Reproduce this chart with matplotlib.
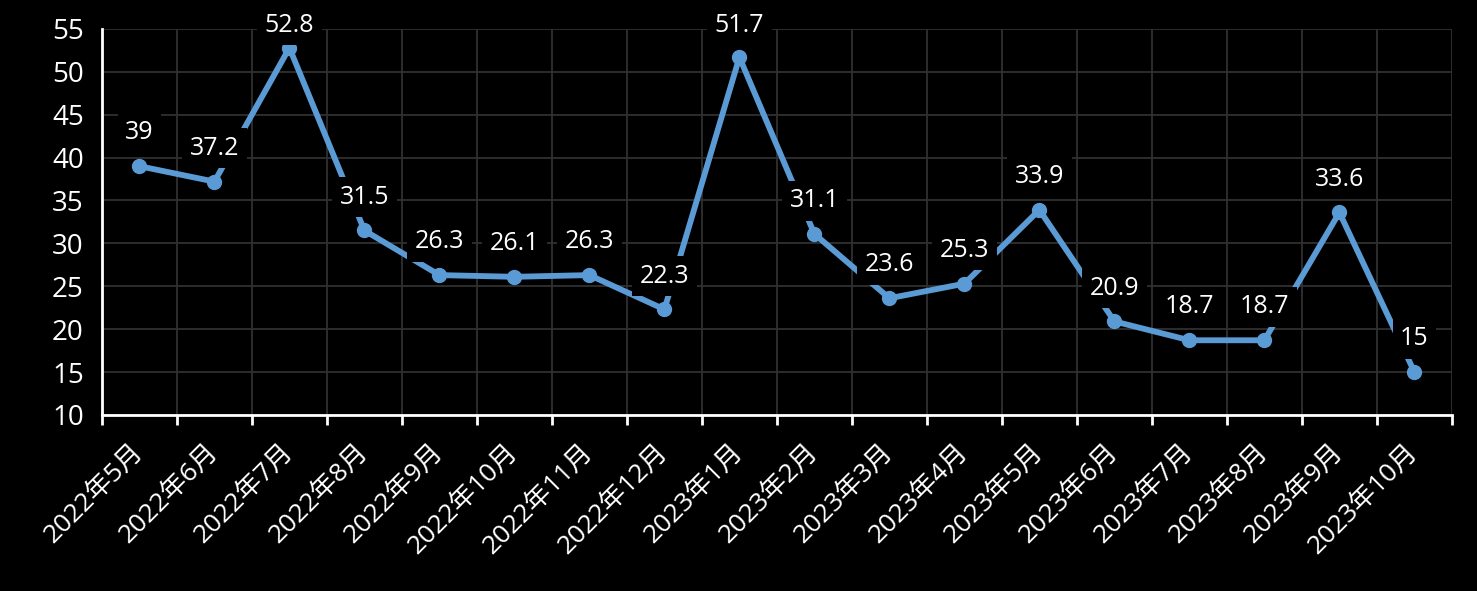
import matplotlib
matplotlib.use("Agg")
import matplotlib.pyplot as plt
import numpy as np

plt.rcParams['font.family'] = ['Open Sans', 'Noto Sans CJK SC', 'DejaVu Sans']

months = ["2022年5月", "2022年6月", "2022年7月", "2022年8月", "2022年9月", "2022年10月",
          "2022年11月", "2022年12月", "2023年1月", "2023年2月", "2023年3月", "2023年4月",
          "2023年5月", "2023年6月", "2023年7月", "2023年8月", "2023年9月", "2023年10月"]
values = [39, 37.2, 52.8, 31.5, 26.3, 26.1, 26.3, 22.3, 51.7, 31.1,
          23.6, 25.3, 33.9, 20.9, 18.7, 18.7, 33.6, 15]
value_labels = ["39", "37.2", "52.8", "31.5", "26.3", "26.1", "26.3", "22.3", "51.7", "31.1",
                "23.6", "25.3", "33.9", "20.9", "18.7", "18.7", "33.6", "15"]

blue = "#5B9BD5"
W, H = 1477, 591
fig = plt.figure(figsize=(W / 100, H / 100), dpi=100, facecolor="black")
ax = fig.add_axes([0.069, 0.298, 0.914, 0.653], facecolor="black")

ymin, ymax = 10, 55
x = np.arange(len(months))
ax.plot(x, values, color=blue, lw=4.2, marker="o", ms=10, zorder=3)

ax.set_xlim(-0.5, len(months) - 0.5)
ax.set_ylim(ymin, ymax)

# labels sit ~24pt above the point, but are kept inside the figure (like Excel)
ax_top_px = (1 - 0.951) * H
ax_h_px = 0.653 * H
for xi, v, t in zip(x, values, value_labels):
    dist_top = ax_top_px + (ymax - v) / (ymax - ymin) * ax_h_px
    off = min(24, (dist_top - 25) * 0.72)
    ax.annotate(t, (xi, v), xytext=(0, off), textcoords="offset points",
                ha="center", va="center", color="white", fontsize=18, zorder=4,
                bbox=dict(boxstyle="square,pad=0.3", fc="black", ec="none"))

ax.set_yticks(range(ymin, ymax + 1, 5))
ax.tick_params(axis="y", length=0, colors="white", labelsize=20, pad=13)

# category boundaries: grid and ticks between labels
ax.set_xticks(np.arange(-0.5, len(months)), minor=False)
ax.set_xticklabels([])
ax.tick_params(axis="x", which="major", length=7, width=2, color="white")
ax.set_xticks(x, minor=True)
ax.set_xticklabels(months, minor=True, rotation=45, ha="right", va="center",
                   rotation_mode="anchor", color="white", fontsize=19)
ax.tick_params(axis="x", which="minor", length=0, pad=24)

ax.grid(True, which="major", color="#303030", lw=1.3)
ax.set_axisbelow(True)
for s in ["top", "right"]:
    ax.spines[s].set_visible(False)
for s in ["left", "bottom"]:
    ax.spines[s].set_color("white")
    ax.spines[s].set_linewidth(2)

fig.savefig("out.png", dpi=100, facecolor="black")
